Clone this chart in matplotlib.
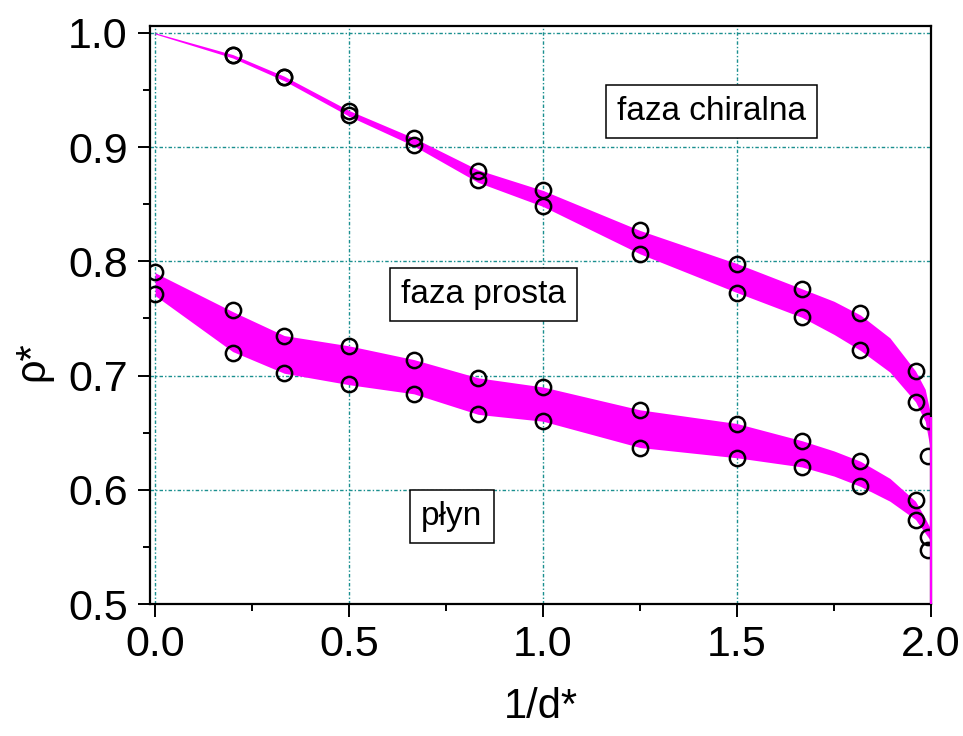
import matplotlib
matplotlib.use("Agg")
import matplotlib.pyplot as plt
from matplotlib.ticker import MultipleLocator, FormatStrFormatter

plt.rcParams['font.family'] = ['Liberation Sans', 'DejaVu Sans']
plt.rcParams['lines.scale_dashes'] = False

# measured state points (1/d*, rho*)
pt_x = [0.2, 0.333, 0.5, 0.667, 0.833, 1.0, 1.25, 1.5, 1.667, 1.818, 1.96, 1.992]
chiral_upper = [0.981, 0.9615, 0.932, 0.908, 0.879, 0.862, 0.827, 0.798, 0.776, 0.755, 0.704, 0.660]
chiral_lower = [0.981, 0.9615, 0.928, 0.902, 0.871, 0.848, 0.8065, 0.7726, 0.751, 0.722, 0.677, 0.630]

fluid_x = [0.0, 0.2, 0.333, 0.5, 0.667, 0.833, 1.0, 1.25, 1.5, 1.667, 1.818, 1.96, 1.992]
fluid_upper = [0.791, 0.757, 0.735, 0.726, 0.714, 0.698, 0.690, 0.670, 0.658, 0.643, 0.6255, 0.591, 0.559]
fluid_lower = [0.771, 0.7195, 0.702, 0.6925, 0.684, 0.666, 0.660, 0.637, 0.628, 0.620, 0.603, 0.5735, 0.547]

# coexistence bands
band_x = [0.0, 0.2, 0.333, 0.5, 0.667, 0.833, 1.0, 1.25, 1.5, 1.667, 1.75, 1.818, 1.894, 1.96, 1.985, 2.0]
chiral_band_top = [1.000, 0.981, 0.962, 0.932, 0.908, 0.880, 0.862, 0.827, 0.798, 0.776, 0.765, 0.753, 0.733, 0.704, 0.688, 0.664]
chiral_band_bot = [0.999, 0.978, 0.958, 0.927, 0.901, 0.869, 0.848, 0.8065, 0.7726, 0.751, 0.736, 0.722, 0.703, 0.677, 0.660, 0.632]
fluid_band_top = [0.790, 0.756, 0.735, 0.726, 0.714, 0.698, 0.690, 0.670, 0.658, 0.643, 0.634, 0.625, 0.610, 0.590, 0.575, 0.565]
fluid_band_bot = [0.770, 0.721, 0.702, 0.692, 0.684, 0.666, 0.660, 0.637, 0.628, 0.620, 0.612, 0.603, 0.590, 0.574, 0.562, 0.555]

x_ticks = [0.0, 0.5, 1.0, 1.5, 2.0]
y_ticks = [0.5, 0.6, 0.7, 0.8, 0.9, 1.0]

phase_labels = ["faza chiralna", "faza prosta", "płyn"]
label_pos = [(1.434, 0.9313), (0.847, 0.7706), (0.765, 0.577)]

MAGENTA = '#FF00FF'
TEAL = '#1A8F8F'

fig = plt.figure(figsize=(9.63, 7.36), dpi=100)
ax = fig.add_axes([0.1558, 0.1793, 0.8110, 0.7854])

ax.fill_between(band_x, chiral_band_bot, chiral_band_top, color=MAGENTA, lw=0, zorder=2)
ax.fill_between(band_x, fluid_band_bot, fluid_band_top, color=MAGENTA, lw=0, zorder=2)
ax.vlines(band_x[-1], 0.5, chiral_band_top[-1], color=MAGENTA, lw=1.6, zorder=6, clip_on=False)

marker_kw = dict(ls='none', marker='o', ms=11, mfc='none', mec='black', mew=1.8, zorder=4)
ax.plot(pt_x, chiral_upper, **marker_kw)
ax.plot(pt_x, chiral_lower, **marker_kw)
ax.plot(fluid_x, fluid_upper, **marker_kw)
ax.plot(fluid_x, fluid_lower, **marker_kw)

for txt, (tx, ty) in zip(phase_labels, label_pos):
    ax.text(tx, ty, txt, fontsize=24, ha='center', va='center', zorder=7,
            bbox=dict(boxstyle='square,pad=0.33', fc='white', ec='black', lw=1.1))

ax.set_xlim(-0.013, 2.0)
ax.set_ylim(0.5, 1.006)
ax.set_xticks(x_ticks)
ax.set_yticks(y_ticks)
ax.xaxis.set_major_formatter(FormatStrFormatter('%.1f'))
ax.yaxis.set_major_formatter(FormatStrFormatter('%.1f'))
ax.xaxis.set_minor_locator(MultipleLocator(0.25))
ax.yaxis.set_minor_locator(MultipleLocator(0.05))
ax.tick_params(which='major', direction='out', length=9, width=1.4, labelsize=31, pad=6)
ax.tick_params(which='minor', direction='out', length=4.8, width=1.4)
ax.tick_params(axis='y', which='major', pad=7)

ax.grid(True, which='major', color=TEAL, lw=1.0, ls=(0, (2.5, 1.5, 1.0, 1.5)), zorder=1)
ax.set_axisbelow(True)

for sp in ax.spines.values():
    sp.set_linewidth(1.6)

ax.set_xlabel('1/d*', fontsize=30, labelpad=16)
ax.set_ylabel('ρ*', fontsize=30)
ax.yaxis.set_label_coords(-0.125, 0.42)

fig.savefig('out.png', dpi=100)
